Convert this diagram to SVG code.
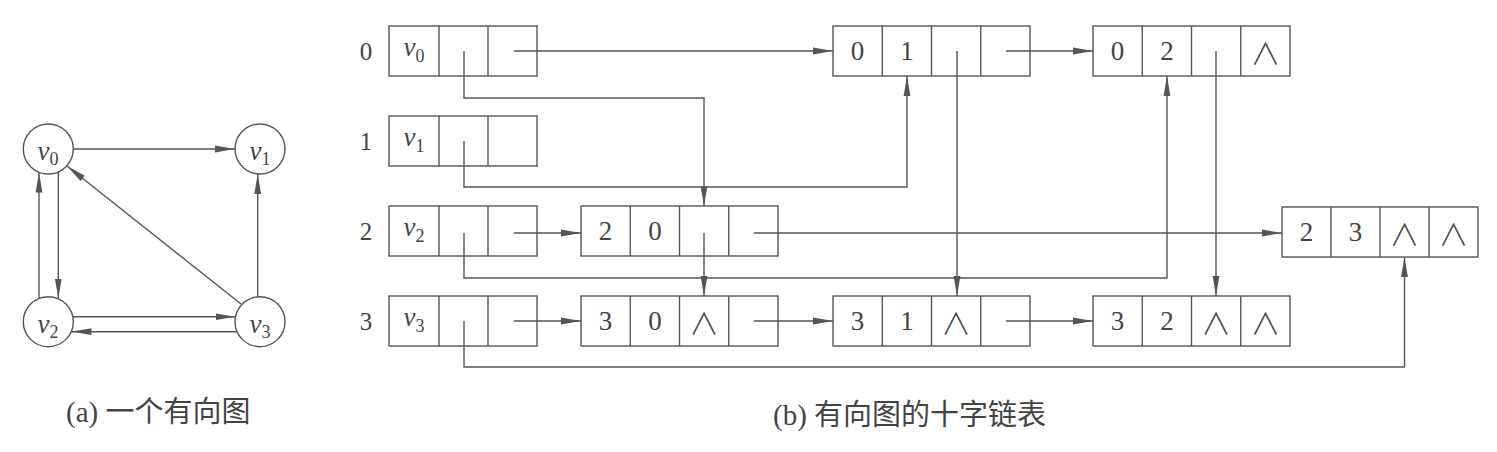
<svg xmlns="http://www.w3.org/2000/svg" width="1497" height="452" viewBox="0 0 1497 452">
<style>
.bx{fill:none;stroke:#555;stroke-width:1.4}
.ln{fill:none;stroke:#555;stroke-width:1.4}
.ar{fill:none;stroke:#555;stroke-width:1.4;marker-end:url(#ah)}
.dg{font-family:"Liberation Serif",serif;font-size:27px;fill:#444;text-anchor:middle}
.lb{font-family:"Liberation Serif",serif;font-size:25px;fill:#444;text-anchor:middle}
.vv{font-family:"Liberation Serif",serif;font-size:27px;font-style:italic;fill:#444;text-anchor:middle}
.sb{font-size:18px;font-style:normal}
.nl{font-family:"Noto Sans CJK SC",sans-serif;font-weight:300;font-size:30px;fill:#444;text-anchor:middle}
.cap{font-family:"Liberation Serif","Noto Sans CJK SC",serif;font-size:29px;fill:#444}
.cc{fill:#fff;stroke:#555;stroke-width:1.4}
</style>
<defs>
<marker id="ah" viewBox="0 0 20 8" refX="20" refY="4" markerWidth="20" markerHeight="8" markerUnits="userSpaceOnUse" orient="auto">
<path d="M0,0.6 L20,4 L0,7.4 z" fill="#555"/>
</marker>
</defs>
<rect width="1497" height="452" fill="#fff"/>

<!-- (a) graph -->
<g id="graph-edges">
<line class="ar" x1="73.5" y1="149" x2="235" y2="149"/>
<line class="ar" x1="58.3" y1="172" x2="58.3" y2="298.5"/>
<line class="ar" x1="39" y1="298.5" x2="39" y2="172.5"/>
<line class="ar" x1="257.7" y1="297" x2="257.7" y2="174"/>
<line class="ar" x1="73" y1="316.7" x2="235.5" y2="316.7"/>
<line class="ar" x1="237" y1="331.7" x2="71.5" y2="331.7"/>
<line class="ar" x1="241" y1="304" x2="67" y2="166"/>
</g>
<g id="gv0"><circle class="cc" cx="48.3" cy="149" r="25"/><text class="vv" x="48" y="160">v<tspan class="sb" dy="5">0</tspan></text></g>
<g id="gv1"><circle class="cc" cx="260" cy="149" r="25"/><text class="vv" x="260" y="160">v<tspan class="sb" dy="5">1</tspan></text></g>
<g id="gv2"><circle class="cc" cx="48.3" cy="321.7" r="25"/><text class="vv" x="48" y="332.7">v<tspan class="sb" dy="5">2</tspan></text></g>
<g id="gv3"><circle class="cc" cx="260" cy="321.7" r="25"/><text class="vv" x="260" y="332.7">v<tspan class="sb" dy="5">3</tspan></text></g>
<text class="cap" x="66" y="422">(a) 一个有向图</text>

<!-- (b) orthogonal list -->
<g id="connectors">
<polyline class="ar" points="514,51 833,51"/>
<polyline class="ar" points="464,51 464,98 704,98 704,206"/>
<polyline class="ar" points="464,141 464,187 907,187 907,76"/>
<polyline class="ar" points="514,233 581,233"/>
<polyline class="ar" points="464,233 464,278 1167,278 1167,76"/>
<polyline class="ar" points="514,321 581,321"/>
<polyline class="ar" points="464,321 464,367 1404.5,367 1404.5,257"/>
<polyline class="ar" points="1006,51 1093,51"/>
<polyline class="ar" points="957,51 957,296"/>
<polyline class="ar" points="1216,51 1216,296"/>
<polyline class="ar" points="704,233 704,296"/>
<polyline class="ar" points="754,233 1282,233"/>
<polyline class="ar" points="754,321 833,321"/>
<polyline class="ar" points="1006,321 1093,321"/>
</g>

<g id="vert0">
<text class="lb" x="366" y="60">0</text>
<rect class="bx" x="389" y="26" width="148" height="50"/>
<line class="ln" x1="439" y1="26" x2="439" y2="76"/><line class="ln" x1="488" y1="26" x2="488" y2="76"/>
<text class="vv" x="414" y="56">v<tspan class="sb" dy="6">0</tspan></text>
</g>
<g id="vert1">
<text class="lb" x="366" y="150">1</text>
<rect class="bx" x="389" y="116" width="148" height="50"/>
<line class="ln" x1="439" y1="116" x2="439" y2="166"/><line class="ln" x1="488" y1="116" x2="488" y2="166"/>
<text class="vv" x="414" y="146">v<tspan class="sb" dy="6">1</tspan></text>
</g>
<g id="vert2">
<text class="lb" x="366" y="240">2</text>
<rect class="bx" x="389" y="206" width="148" height="50"/>
<line class="ln" x1="439" y1="206" x2="439" y2="256"/><line class="ln" x1="488" y1="206" x2="488" y2="256"/>
<text class="vv" x="414" y="236">v<tspan class="sb" dy="6">2</tspan></text>
</g>
<g id="vert3">
<text class="lb" x="366" y="330">3</text>
<rect class="bx" x="389" y="296" width="148" height="50"/>
<line class="ln" x1="439" y1="296" x2="439" y2="346"/><line class="ln" x1="488" y1="296" x2="488" y2="346"/>
<text class="vv" x="414" y="326">v<tspan class="sb" dy="6">3</tspan></text>
</g>

<g id="arc01">
<rect class="bx" x="833" y="26" width="197" height="50"/>
<line class="ln" x1="882.25" y1="26" x2="882.25" y2="76"/><line class="ln" x1="931.5" y1="26" x2="931.5" y2="76"/><line class="ln" x1="980.75" y1="26" x2="980.75" y2="76"/>
<text class="dg" x="857.6" y="60">0</text><text class="dg" x="906.9" y="60">1</text>
</g>
<g id="arc02">
<rect class="bx" x="1093" y="26" width="197" height="50"/>
<line class="ln" x1="1142.25" y1="26" x2="1142.25" y2="76"/><line class="ln" x1="1191.5" y1="26" x2="1191.5" y2="76"/><line class="ln" x1="1240.75" y1="26" x2="1240.75" y2="76"/>
<text class="dg" x="1117.6" y="60">0</text><text class="dg" x="1166.9" y="60">2</text><text class="nl" x="1265.4" y="64">∧</text>
</g>
<g id="arc20">
<rect class="bx" x="581" y="206" width="197" height="50"/>
<line class="ln" x1="630.25" y1="206" x2="630.25" y2="256"/><line class="ln" x1="679.5" y1="206" x2="679.5" y2="256"/><line class="ln" x1="728.75" y1="206" x2="728.75" y2="256"/>
<text class="dg" x="605.6" y="240">2</text><text class="dg" x="654.9" y="240">0</text>
</g>
<g id="arc23">
<rect class="bx" x="1282" y="207" width="196" height="50"/>
<line class="ln" x1="1331" y1="207" x2="1331" y2="257"/><line class="ln" x1="1380" y1="207" x2="1380" y2="257"/><line class="ln" x1="1429" y1="207" x2="1429" y2="257"/>
<text class="dg" x="1306.5" y="241">2</text><text class="dg" x="1355.5" y="241">3</text><text class="nl" x="1404.5" y="245">∧</text><text class="nl" x="1453.5" y="245">∧</text>
</g>
<g id="arc30">
<rect class="bx" x="581" y="296" width="197" height="50"/>
<line class="ln" x1="630.25" y1="296" x2="630.25" y2="346"/><line class="ln" x1="679.5" y1="296" x2="679.5" y2="346"/><line class="ln" x1="728.75" y1="296" x2="728.75" y2="346"/>
<text class="dg" x="605.6" y="330">3</text><text class="dg" x="654.9" y="330">0</text><text class="nl" x="704.1" y="334">∧</text>
</g>
<g id="arc31">
<rect class="bx" x="833" y="296" width="197" height="50"/>
<line class="ln" x1="882.25" y1="296" x2="882.25" y2="346"/><line class="ln" x1="931.5" y1="296" x2="931.5" y2="346"/><line class="ln" x1="980.75" y1="296" x2="980.75" y2="346"/>
<text class="dg" x="857.6" y="330">3</text><text class="dg" x="906.9" y="330">1</text><text class="nl" x="956.1" y="334">∧</text>
</g>
<g id="arc32">
<rect class="bx" x="1093" y="296" width="197" height="50"/>
<line class="ln" x1="1142.25" y1="296" x2="1142.25" y2="346"/><line class="ln" x1="1191.5" y1="296" x2="1191.5" y2="346"/><line class="ln" x1="1240.75" y1="296" x2="1240.75" y2="346"/>
<text class="dg" x="1117.6" y="330">3</text><text class="dg" x="1166.9" y="330">2</text><text class="nl" x="1216.1" y="334">∧</text><text class="nl" x="1265.4" y="334">∧</text>
</g>
<text class="cap" x="773" y="425">(b) 有向图的十字链表</text>
</svg>
